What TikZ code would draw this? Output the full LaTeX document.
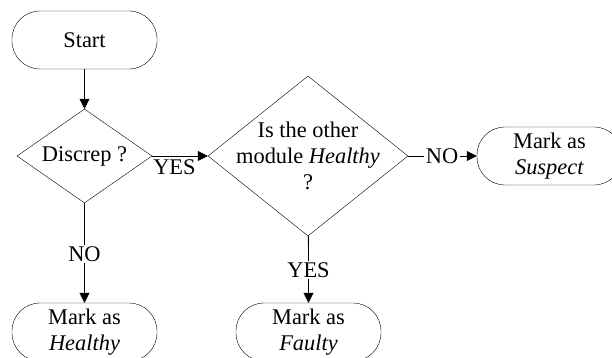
\documentclass[tikz,border=0pt]{standalone}
\usepackage{fontspec}
\setmainfont{Liberation Serif}
\usetikzlibrary{shapes.geometric,arrows.meta}

\begin{document}
\begin{tikzpicture}[x=1pt, y=-1pt,
    font=\fontsize{22.4}{26}\selectfont,
    terminal/.style={draw, rectangle, rounded corners=28pt, minimum width=145pt,
        minimum height=58pt, align=center, inner sep=0pt},
    decision/.style={draw, diamond, inner sep=0pt},
    arrow/.style={-{Triangle[length=10pt,width=10pt]}, line width=0.8pt},
    line/.style={line width=0.8pt},
    onlabel/.style={inner sep=1.5pt}]
    \useasboundingbox (0,0) rectangle (612,358);

    \node[terminal] (start) at (84.5,40) {Start};

    \node[decision, minimum width=135pt, minimum height=94pt] (discrep) at (84.5,156) {};
    \node (discreptxt) at (discrep) {Discrep ?};

    \node[decision, minimum width=200pt, minimum height=160pt] (other) at (308,156) {};
    \node[align=center] (othertxt) at (other) {Is the other\\module \textit{Healthy}\\?};

    \node[terminal] (suspect) at (549.5,156) {Mark as\\\textit{Suspect}};
    \node[terminal] (healthy) at (84.5,332) {Mark as\\\textit{Healthy}};
    \node[terminal] (faulty) at (308.5,332) {Mark as\\\textit{Faulty}};

    % labels sitting in the connectors
    \node[onlabel] (noleft) at (84.5,254) {NO};
    \node[onlabel] (noright) at (442,156) {NO};
    \node[onlabel] (yesdown) at (308.5,270) {YES};

    \draw[arrow] (start) -- (discrep);
    \draw[arrow] (discrep) -- node[below, pos=0.4] {YES} (other);
    \draw[line] (discrep) -- (noleft);
    \draw[arrow] (noleft) -- (healthy);
    \draw[line] (other) -- (noright);
    \draw[arrow] (noright) -- (suspect);
    \draw[line] (other) -- (yesdown);
    \draw[arrow] (yesdown) -- (faulty);

\end{tikzpicture}
\end{document}
